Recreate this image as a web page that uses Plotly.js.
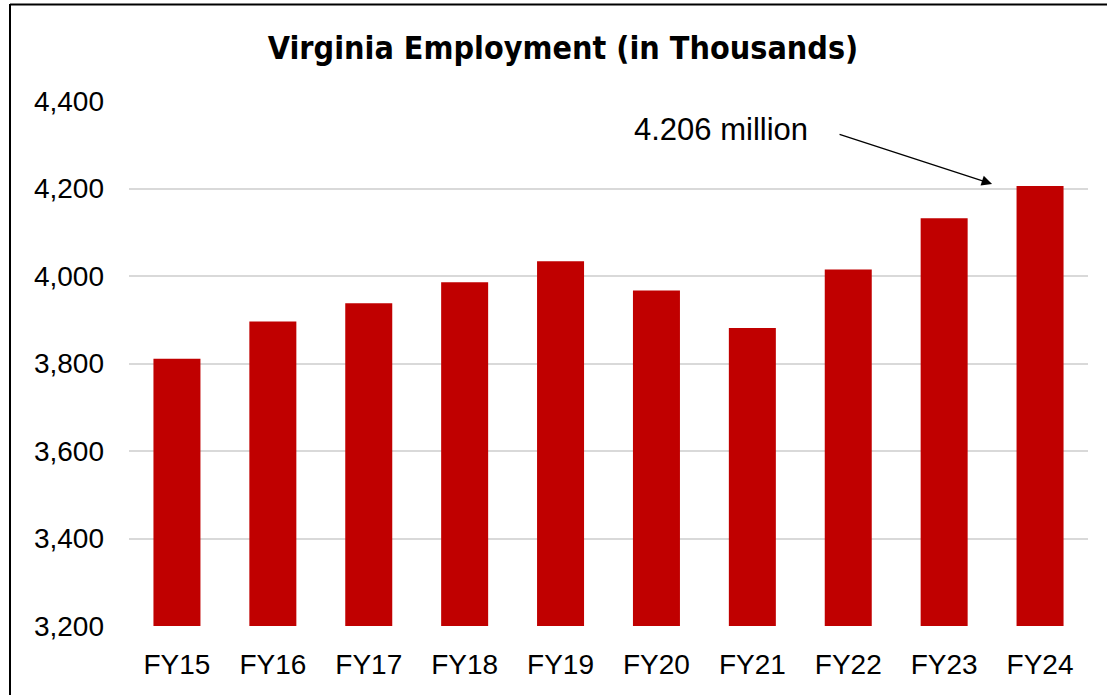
<!DOCTYPE html>
<html>
<head>
<meta charset="utf-8">
<script src="https://cdn.plot.ly/plotly-3.0.1.min.js"></script>
<style>
html,body{margin:0;padding:0;background:#fff;}
#chart{width:1107px;height:695px;}
</style>
</head>
<body>
<div id="chart"></div>
<script>
const categories = ["FY15","FY16","FY17","FY18","FY19","FY20","FY21","FY22","FY23","FY24"];
const employment = [3811, 3896, 3938, 3986, 4034, 3967, 3881, 4015, 4132, 4206];
const yTickVals = [3200, 3400, 3600, 3800, 4000, 4200, 4400];
const yTickText = ["3,200","3,400","3,600","3,800","4,000","4,200","4,400"];
const titleText = "Virginia Employment (in Thousands)";
const noteText = "4.206 million";

const trace = {
  type: "bar",
  x: categories,
  y: employment,
  marker: {color: "#c00000", line: {width: 0}},
  hoverinfo: "x+y"
};

const layout = {
  width: 1107,
  height: 695,
  margin: {l: 129, r: 19, t: 101, b: 69},
  paper_bgcolor: "#ffffff",
  plot_bgcolor: "#ffffff",
  bargap: 0.51,
  showlegend: false,
  title: {
    text: titleText,
    font: {family: "DejaVu Sans Condensed, DejaVu Sans", size: 32, color: "#000000", weight: "bold"},
    xref: "container", x: 0.5086, xanchor: "center",
    yref: "container", y: 0.931, yanchor: "middle"
  },
  xaxis: {
    type: "category",
    showgrid: false,
    showline: false,
    zeroline: false,
    ticks: "",
    tickfont: {family: "Liberation Sans", size: 28, color: "#000000"},
    ticklabelstandoff: 19
  },
  yaxis: {
    range: [3200, 4400],
    tickvals: yTickVals,
    ticktext: yTickText,
    showgrid: true,
    gridcolor: "#d9d9d9",
    gridwidth: 2,
    zeroline: false,
    showline: false,
    ticks: "",
    tickfont: {family: "Liberation Sans", size: 28, color: "#000000"},
    ticklabelstandoff: 24
  },
  annotations: [
    {
      x: categories[9], y: employment[9],
      xref: "x", yref: "y",
      xshift: -48, yshift: 2,
      text: "",
      showarrow: true,
      arrowhead: 2, arrowsize: 1.6, arrowwidth: 1.3, arrowcolor: "#000000",
      axref: "pixel", ayref: "pixel",
      ax: -154, ay: -50
    },
    {
      xref: "paper", yref: "paper",
      x: (721 - 129) / 959, y: 1 + (101 - 130) / 525,
      xanchor: "center", yanchor: "middle",
      text: noteText,
      showarrow: false,
      font: {family: "Liberation Sans", size: 31, color: "#000000"}
    }
  ],
  shapes: [
    {type: "line", xref: "paper", yref: "paper",
     x0: (10 - 129) / 959, x1: (1110 - 129) / 959,
     y0: 1 + (101 - 4.5) / 525, y1: 1 + (101 - 4.5) / 525,
     line: {color: "#000000", width: 2}},
    {type: "line", xref: "paper", yref: "paper",
     x0: (10 - 129) / 959, x1: (10 - 129) / 959,
     y0: 1 + (101 - 4) / 525, y1: -(700 - 626) / 525,
     line: {color: "#000000", width: 2}}
  ]
};

Plotly.newPlot("chart", [trace], layout, {displayModeBar: false, staticPlot: true});
</script>
</body>
</html>
